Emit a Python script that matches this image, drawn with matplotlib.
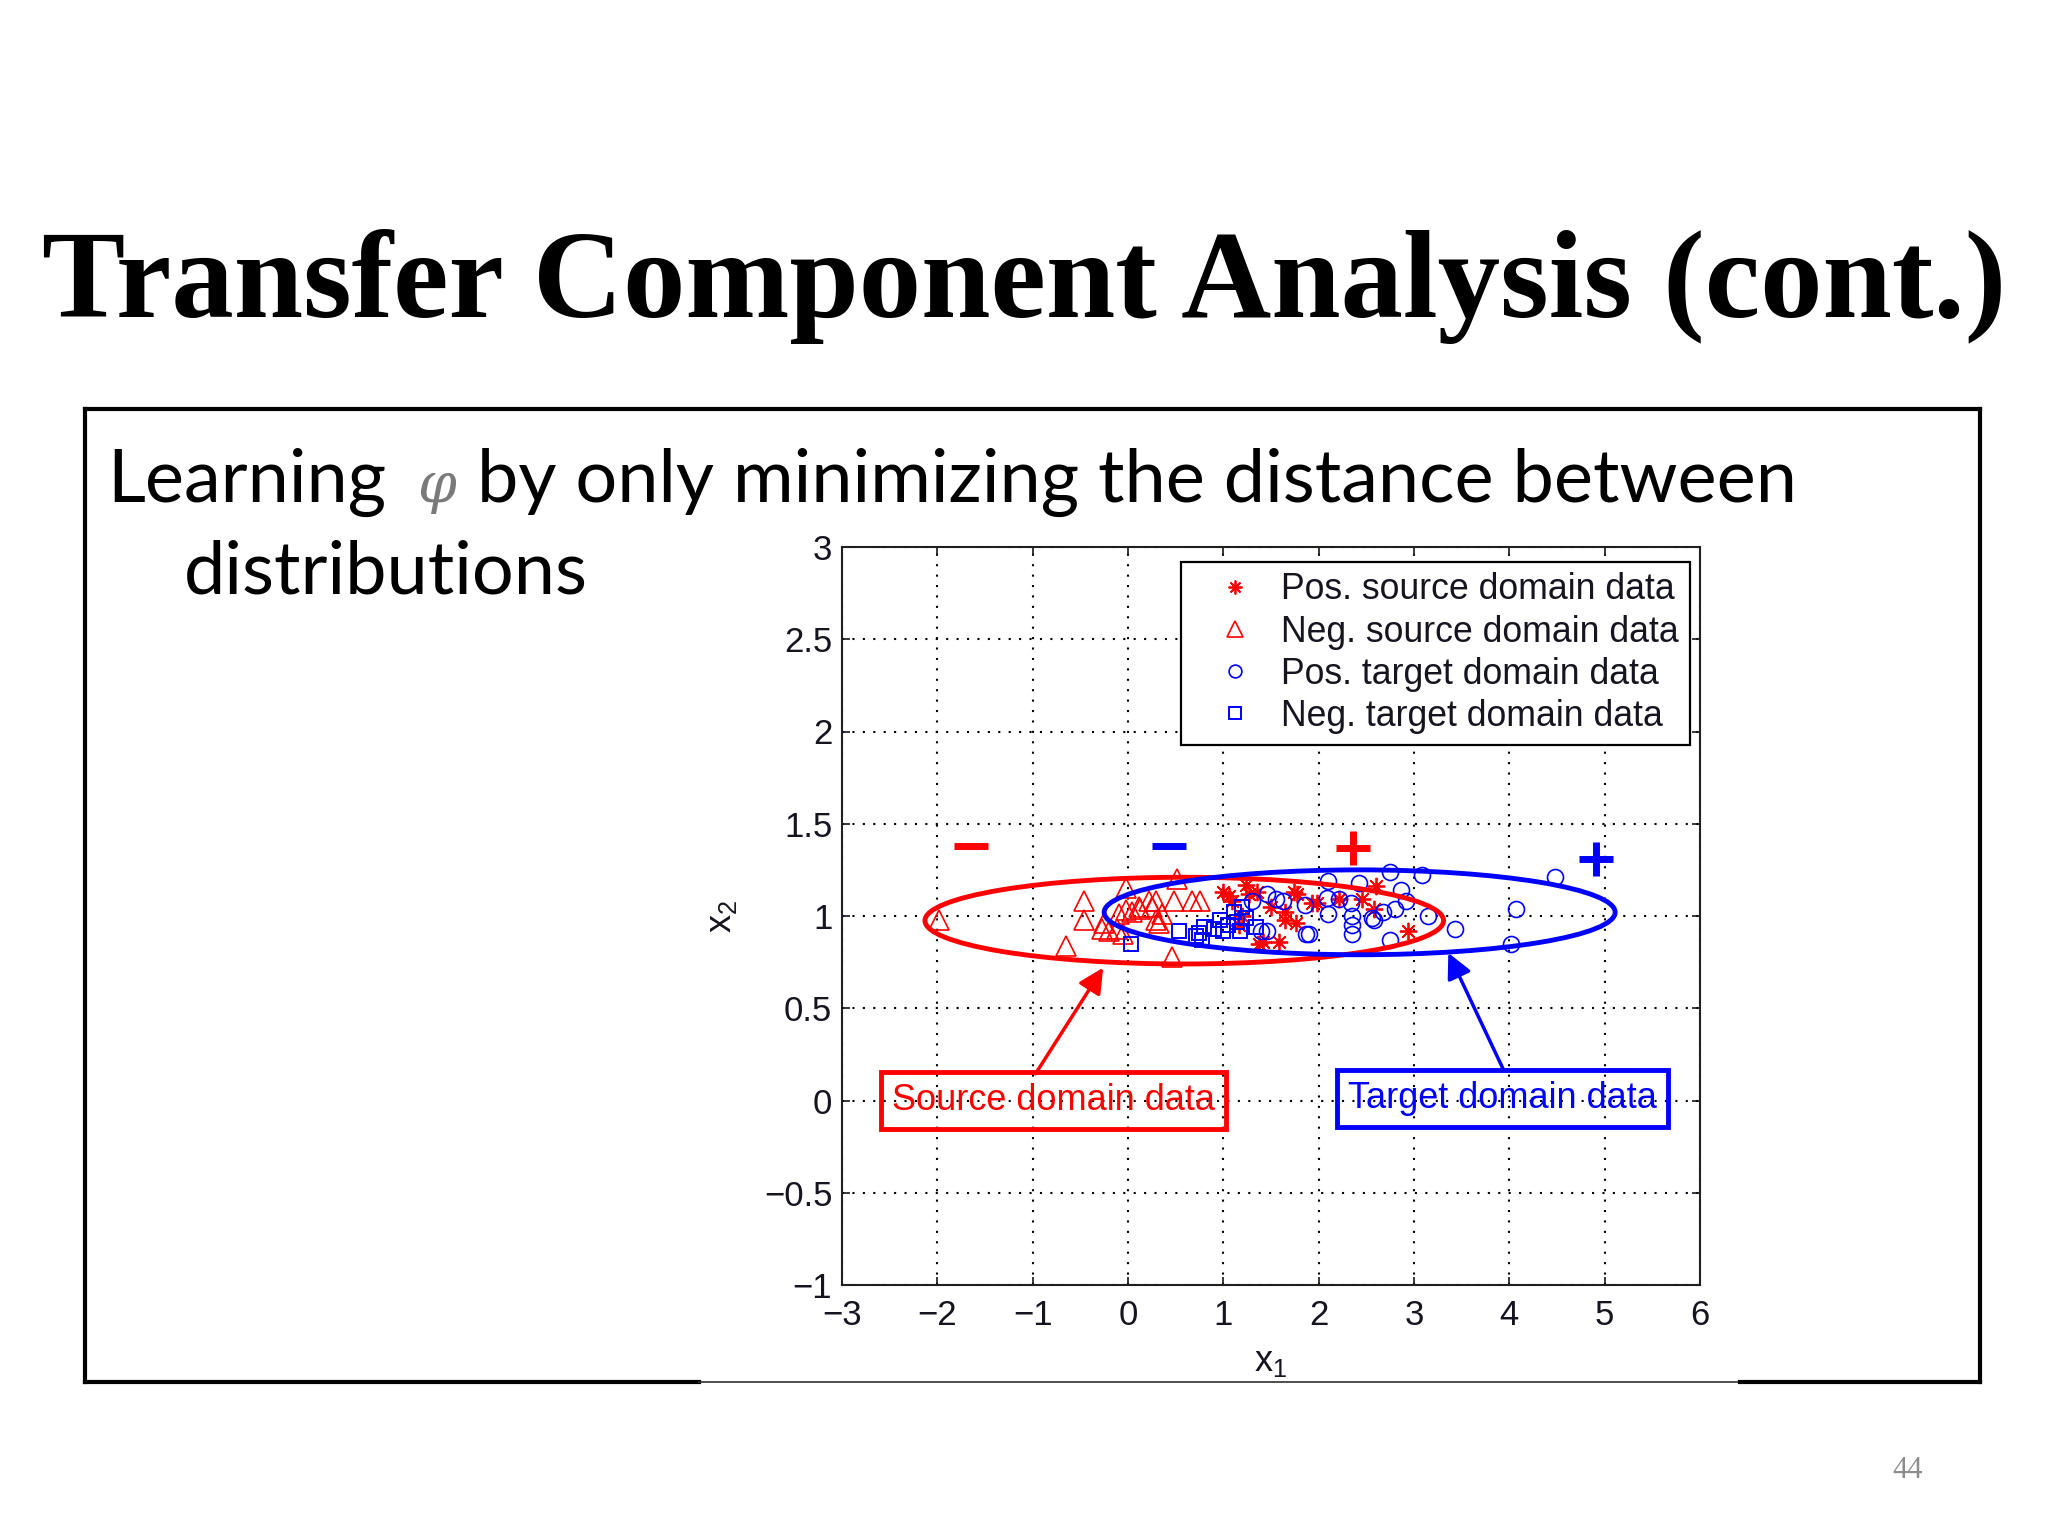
import matplotlib
matplotlib.use('Agg')
import matplotlib.pyplot as plt
from matplotlib.patches import Ellipse
from matplotlib.lines import Line2D

# ---------------- data ----------------
title = "Transfer Component Analysis (cont.)"
body_word1 = "Learning"
body_phi = "\u03c6"
body_rest = "by only minimizing the distance between"
body_line2 = "distributions"
page_number = "44"

pos_src_x = [1.00, 1.06, 1.09, 1.16, 1.24, 1.27, 1.35, 1.37, 1.42, 1.58, 1.65, 1.65,
             1.74, 1.76, 1.77, 1.93, 1.98, 2.21, 2.45, 2.58, 2.60, 2.94, 1.20, 1.50]
pos_src_y = [1.13, 1.11, 1.08, 0.95, 1.17, 1.12, 1.13, 0.85, 0.86, 0.86, 1.02, 0.98,
             1.13, 0.96, 1.12, 1.07, 1.07, 1.09, 1.09, 1.04, 1.16, 0.92, 1.00, 1.05]

neg_src_x = [-1.98, -0.65, -0.46, -0.46, -0.27, -0.25, -0.20, -0.12, -0.09, -0.05,
             -0.02, -0.02, 0.04, 0.12, 0.13, 0.22, 0.25, 0.29, 0.29, 0.32,
             0.36, 0.46, 0.48, 0.51, 0.67, 0.76]
neg_src_y = [0.98, 0.84, 1.08, 0.98, 0.93, 0.96, 0.92, 0.93, 1.01, 0.90,
             1.15, 1.03, 1.02, 1.05, 1.04, 1.08, 1.05, 1.08, 0.98, 0.96,
             1.01, 0.78, 1.08, 1.20, 1.08, 1.08]

pos_tgt_x = [1.30, 1.40, 1.46, 1.46, 1.55, 1.63, 1.86, 1.87, 1.90, 2.09,
             2.10, 2.10, 2.21, 2.34, 2.35, 2.35, 2.35, 2.42, 2.56, 2.58,
             2.68, 2.75, 2.75, 2.80, 2.86, 2.92, 3.08, 3.15, 3.43, 4.02,
             4.07, 4.48]
pos_tgt_y = [1.08, 0.92, 1.12, 0.92, 1.09, 1.08, 1.06, 0.90, 0.90, 1.10,
             1.19, 1.01, 1.09, 1.07, 1.00, 0.95, 0.90, 1.18, 0.99, 0.98,
             1.02, 1.24, 0.87, 1.04, 1.14, 1.08, 1.22, 1.00, 0.93, 0.85,
             1.04, 1.21]

neg_tgt_x = [0.03, 0.53, 0.71, 0.74, 0.78, 0.80, 0.90, 0.97, 1.00, 1.05, 1.11, 1.14,
             1.18, 1.20, 1.24, 1.34]
neg_tgt_y = [0.85, 0.92, 0.89, 0.91, 0.87, 0.94, 0.93, 0.98, 0.92, 0.95, 1.02, 0.97,
             0.92, 1.05, 0.99, 0.94]

legend_labels = ["Pos. source domain data", "Neg. source domain data",
                 "Pos. target domain data", "Neg. target domain data"]

# domain ellipses (source, target)
ell_cx = [0.59, 2.43]
ell_cy = [0.975, 1.02]
ell_w = [5.44, 5.36]
ell_h = [0.47, 0.46]
ell_colors = ["red", "blue"]

# class sign annotations
sign_x = [-1.65, 0.43, 2.36, 4.91]
sign_y = [1.38, 1.38, 1.37, 1.31]
sign_marker = ["_", "_", "+", "+"]
sign_color = ["red", "blue", "red", "blue"]

# callouts
callout_text = ["Source domain data", "Target domain data"]
callout_x = [-0.78, 3.93]
callout_y = [0.0, 0.01]
arrow_tail_x = [-0.97, 3.94]
arrow_tail_y = [0.145, 0.165]
arrow_head_x = [-0.26, 3.36]
arrow_head_y = [0.72, 0.80]
callout_color = ["red", "blue"]

xticks = [-3, -2, -1, 0, 1, 2, 3, 4, 5, 6]
xtick_labels = ["\u22123", "\u22122", "\u22121", "0", "1", "2", "3", "4", "5", "6"]
yticks = [-1, -0.5, 0, 0.5, 1, 1.5, 2, 2.5, 3]
ytick_labels = ["\u22121", "\u22120.5", "0", "0.5", "1", "1.5", "2", "2.5", "3"]

# ---------------- figure ----------------
W, H = 2048, 1536
fig = plt.figure(figsize=(W / 100, H / 100), dpi=100)
fig.patch.set_facecolor("white")


def fx(px):
    return px / W


def fy(py):
    return 1 - py / H


SERIF = ["Liberation Serif", "DejaVu Serif"]
BODY = ["Lato", "DejaVu Sans"]
SANS = ["Liberation Sans", "DejaVu Sans"]

t_title = fig.text(0.5, fy(317), title, ha="center", va="baseline",
                   fontfamily=SERIF, fontweight="bold", fontsize=96, color="black")

t_w1 = fig.text(fx(107), fy(502), body_word1, ha="left", va="baseline",
                fontfamily=BODY, fontsize=50, color="black")
t_phi = fig.text(fx(417), fy(502), body_phi, ha="left", va="baseline",
                 fontfamily=["DejaVu Serif"], fontstyle="italic", fontsize=40,
                 color="#7a7a7a")
t_rest = fig.text(fx(477), fy(502), body_rest, ha="left", va="baseline",
                  fontfamily=BODY, fontsize=50, color="black")
t_l2 = fig.text(fx(184), fy(594), body_line2, ha="left", va="baseline",
                fontfamily=BODY, fontsize=50, color="black")

t_pg = fig.text(fx(1908), fy(1478), page_number, ha="center", va="baseline",
                fontfamily=SERIF, fontsize=22, color="#8c8c8c")

# slide content box
box_lw = 3
L, R, T, B = 85, 1980, 409, 1382
for (x0, y0, x1, y1, c, lw) in [
    (L, T, R, T, "black", box_lw),
    (L, T, L, B, "black", box_lw),
    (R, T, R, B, "black", box_lw),
    (L, B, 699, B, "black", box_lw),
    (699, B, 1740, B, "#303030", 1.2),
    (1740, B, R, B, "black", box_lw),
]:
    fig.add_artist(Line2D([fx(x0), fx(x1)], [fy(y0), fy(y1)], color=c, lw=lw,
                          solid_capstyle="projecting", transform=fig.transFigure))

# fit slide text widths
fig.canvas.draw()
r = fig.canvas.get_renderer()


def fit(t, target):
    w = t.get_window_extent(r).width
    t.set_fontsize(t.get_fontsize() * target / w)


fit(t_title, 1964)
fit(t_rest, 1319)
fs_body = t_rest.get_fontsize()
t_w1.set_fontsize(fs_body)
t_l2.set_fontsize(fs_body)

# ---------------- chart ----------------
ax = fig.add_axes([fx(842), fy(1285), (1700 - 842) / W, (1285 - 547) / H])
ax.set_xlim(-3, 6)
ax.set_ylim(-1, 3)
ax.set_axisbelow(True)
ax.grid(True, color="black", linestyle=(0, (1, 4)), linewidth=1.5)

TXT = "#151520"
h1, = ax.plot(pos_src_x, pos_src_y, linestyle="none", marker=(8, 2, 0), ms=12.5,
              mew=1.3, color="red", zorder=3)
h2, = ax.plot(neg_src_x, neg_src_y, linestyle="none", marker="^", ms=15,
              mfc="none", mec="red", mew=1.2, zorder=3)
h3, = ax.plot(pos_tgt_x, pos_tgt_y, linestyle="none", marker="o", ms=11.5,
              mfc="none", mec="blue", mew=1.2, zorder=3)
h4, = ax.plot(neg_tgt_x, neg_tgt_y, linestyle="none", marker="s", ms=10,
              mfc="none", mec="blue", mew=1.4, zorder=3)

for cx, cy, w, h, c in zip(ell_cx, ell_cy, ell_w, ell_h, ell_colors):
    ax.add_patch(Ellipse((cx, cy), w, h, fill=False, edgecolor=c, lw=3.5, zorder=4))

for sx, sy, m, c in zip(sign_x, sign_y, sign_marker, sign_color):
    ax.plot([sx], [sy], linestyle="none", marker=m, ms=24, mew=5, color=c, zorder=4)

for txt, tx, ty, ax0, ay0, ax1, ay1, c in zip(callout_text, callout_x, callout_y,
                                              arrow_tail_x, arrow_tail_y,
                                              arrow_head_x, arrow_head_y, callout_color):
    ax.text(tx, ty, txt, ha="center", va="center", color=c, fontsize=26,
            fontfamily=SANS, zorder=5,
            bbox=dict(boxstyle="square,pad=0.3", fc="none", ec=c, lw=3.5))
    ax.annotate("", xy=(ax1, ay1), xytext=(ax0, ay0),
                arrowprops=dict(arrowstyle="-|>", color=c, lw=2.5, mutation_scale=38,
                                shrinkA=0, shrinkB=0), zorder=5)

ax.set_xticks(xticks)
ax.set_xticklabels(xtick_labels)
ax.set_yticks(yticks)
ax.set_yticklabels(ytick_labels)
ax.tick_params(direction="in", top=True, right=True, length=6, width=1.2,
               labelsize=25, colors=TXT)
ax.tick_params(axis="x", pad=10)
ax.tick_params(axis="y", pad=7)
for lab in ax.get_xticklabels() + ax.get_yticklabels():
    lab.set_fontfamily(SANS)
for sp in ax.spines.values():
    sp.set_linewidth(1.5)
    sp.set_color("#202020")

ax.set_xlabel(r"$\mathregular{x_1}$", fontsize=26, fontfamily=SANS, color=TXT)
ax.set_ylabel(r"$\mathregular{x_2}$", fontsize=26, fontfamily=SANS, color=TXT)
ax.xaxis.set_label_coords(0.5, -0.08)
ax.yaxis.set_label_coords(-0.12, 0.5)

leg = ax.legend([h1, h2, h3, h4], legend_labels, loc="upper right",
                bbox_to_anchor=(0.988, 0.98), borderaxespad=0, fancybox=False,
                framealpha=1, edgecolor="black", labelspacing=0.2,
                handlelength=2.4, handletextpad=0.1, borderpad=0.3, markerscale=0.8,
                prop={"family": SANS, "size": 25.7})
leg.get_frame().set_linewidth(1.6)
for t in leg.get_texts():
    t.set_color(TXT)

fig.savefig("out.png", dpi=100, facecolor="white")
